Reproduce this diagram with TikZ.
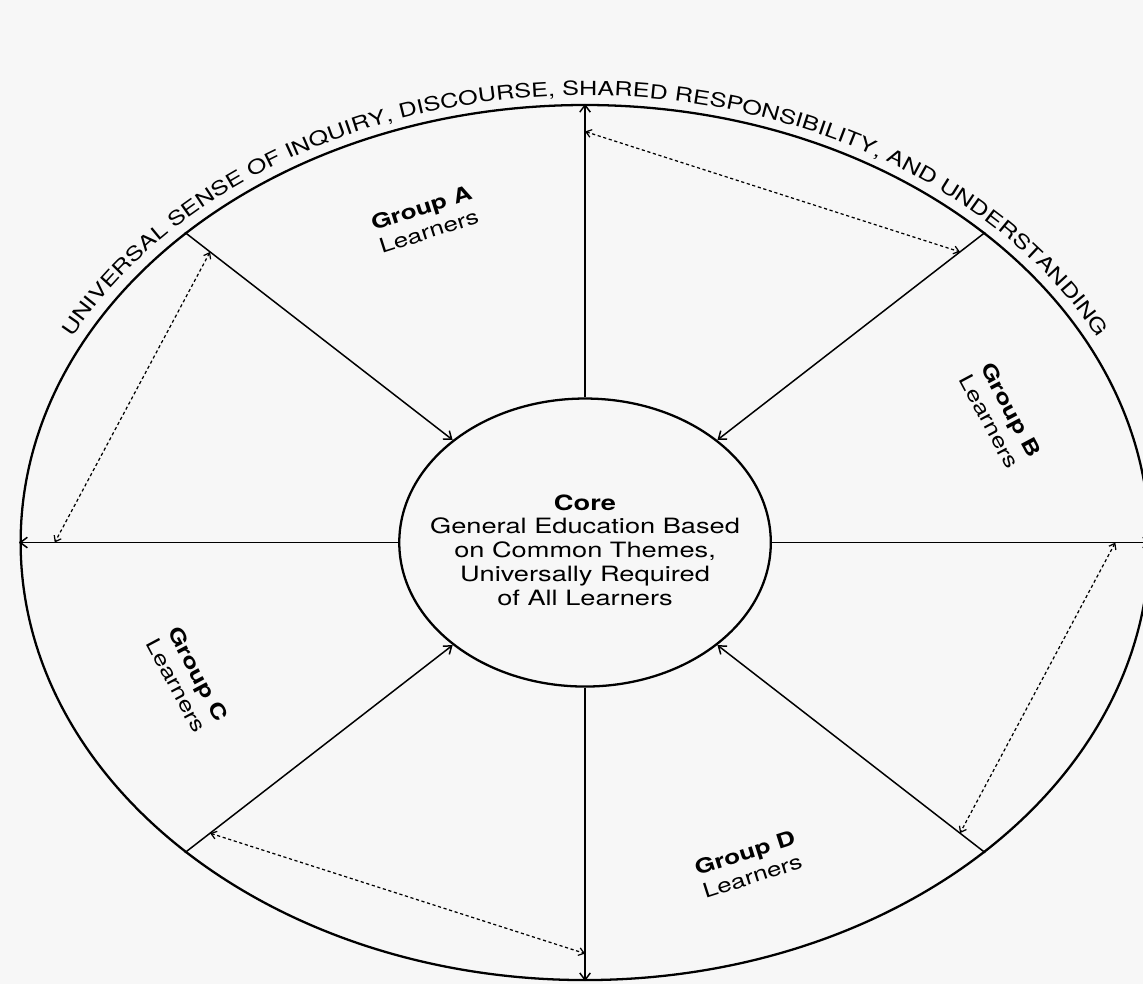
\documentclass[tikz,border=0pt]{standalone}
\usepackage{fontspec}
\setmainfont{TeX Gyre Heros}[FakeStretch=1.29]
\usetikzlibrary{arrows.meta,decorations.text}

\begin{document}
\begin{tikzpicture}[xscale=1.29,
  ring/.style={circle,draw,line width=1.3pt,inner sep=0pt,transform shape},
  spoke/.style={line width=0.85pt,-{Straight Barb[length=4pt,width=6pt]}},
  dotlink/.style={line width=0.7pt,dash pattern=on 1.8pt off 1.5pt,
    {Straight Barb[length=3pt,width=4.5pt]}-{Straight Barb[length=3pt,width=4.5pt]}},
  grouplabel/.style={align=center,font=\fontsize{11.5}{14}\selectfont}]
\useasboundingbox (-9.07,-8.83) rectangle (8.65,10.85);
\fill[black!3] (-9.07,-8.83) rectangle (8.65,10.85);

% Outer ring
\node[ring,minimum size=17.5cm] (rim) at (0,0) {};

% Core
\node[ring,minimum size=5.76cm] (core) at (0,0) {};
\node[align=center,font=\fontsize{12}{13.5}\selectfont] (coretext) at (0,-0.15)
  {\textbf{Core}\\General Education Based\\on Common Themes,\\Universally Required\\of All Learners};

% Ring title
\path[decorate,decoration={text along path,text align=center,
  text={|\fontsize{11.1}{12}\selectfont|UNIVERSAL SENSE OF INQUIRY, DISCOURSE, SHARED RESPONSIBILITY, AND UNDERSTANDING}}]
  (165:8.94) arc[start angle=165,end angle=15,radius=8.94];

% Spokes, out from the core
\draw[spoke] (core.90) -- (rim.90);
\draw[spoke] (core.180) -- (rim.180);
\draw[spoke] (core.270) -- (rim.270);
\draw[spoke] (core.0) -- (rim.0);

% Spokes, in to the core
\draw[spoke] (rim.45) -- (core.45);
\draw[spoke] (rim.135) -- (core.135);
\draw[spoke] (rim.225) -- (core.225);
\draw[spoke] (rim.315) -- (core.315);

% Dotted links
\coordinate (d0) at (0:8.22);
\coordinate (d45) at (45:8.22);
\coordinate (d90) at (90:8.22);
\coordinate (d135) at (135:8.22);
\coordinate (d180) at (180:8.22);
\coordinate (d225) at (225:8.22);
\coordinate (d270) at (270:8.22);
\coordinate (d315) at (315:8.22);
\draw[dotlink] (d90) -- (d45);
\draw[dotlink] (d135) -- (d180);
\draw[dotlink] (d0) -- (d315);
\draw[dotlink] (d225) -- (d270);

% Groups
\node[grouplabel,rotate=17.8] (groupa) at (111:6.92) {\textbf{Group A}\\Learners};
\node[grouplabel,rotate=-61.9] (groupb) at (21.5:6.92) {\textbf{Group B}\\Learners};
\node[grouplabel,rotate=-61.9] (groupc) at (204:6.75) {\textbf{Group C}\\Learners};
\node[grouplabel,rotate=17.8] (groupd) at (291.5:6.92) {\textbf{Group D}\\Learners};

\end{tikzpicture}
\end{document}
